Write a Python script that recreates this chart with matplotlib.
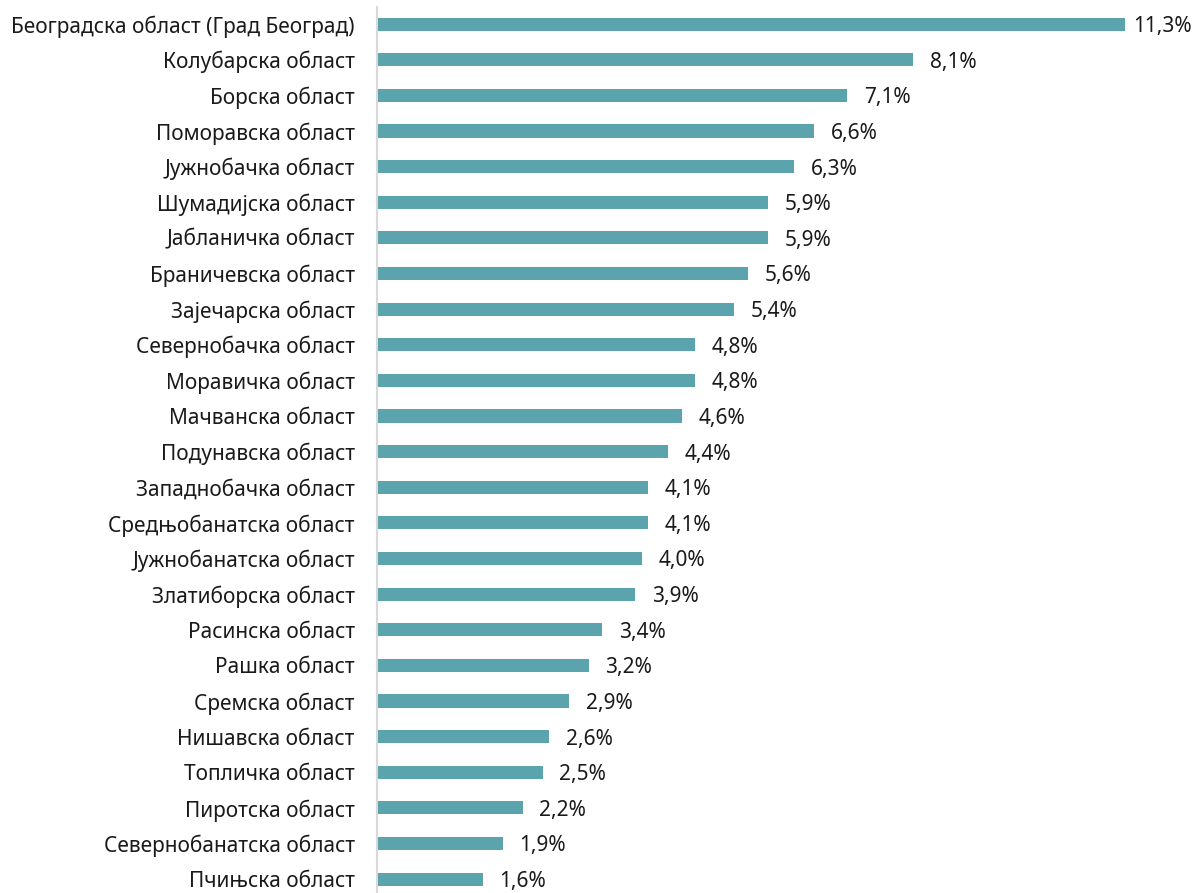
import matplotlib.pyplot as plt

regions = [
    "Београдска област (Град Београд)",
    "Колубарска област",
    "Борска област",
    "Поморавска област",
    "Јужнобачка област",
    "Шумадијска област",
    "Јабланичка област",
    "Браничевска област",
    "Зајечарска област",
    "Севернобачка област",
    "Моравичка област",
    "Мачванска област",
    "Подунавска област",
    "Западнобачка област",
    "Средњобанатска област",
    "Јужнобанатска област",
    "Златиборска област",
    "Расинска област",
    "Рашка област",
    "Сремска област",
    "Нишавска област",
    "Топличка област",
    "Пиротска област",
    "Севернобанатска област",
    "Пчињска област",
]
values = [11.3, 8.1, 7.1, 6.6, 6.3, 5.9, 5.9, 5.6, 5.4, 4.8, 4.8, 4.6, 4.4,
          4.1, 4.1, 4.0, 3.9, 3.4, 3.2, 2.9, 2.6, 2.5, 2.2, 1.9, 1.6]

plt.rcParams['font.family'] = ['Noto Sans', 'DejaVu Sans']

W, H = 1204, 893
fig = plt.figure(figsize=(W / 100, H / 100), dpi=100)
ax = fig.add_axes([377 / W, 0, 1 - 377 / W, 1 - 7 / H])

pos = list(range(len(regions)))
ax.barh(pos, values, height=0.37, color='#5BA3AD')

vmax = max(values)
for p, v in zip(pos, values):
    # the longest bar has no room, so its label sits closer
    off = 6 if v == vmax else 12
    ax.annotate(f"{v:.1f}%".replace('.', ','), (v, p), xytext=(off, 0),
                textcoords='offset points', va='center_baseline', ha='left',
                fontsize=15, color='#1a1a1a')

ax.set_xlim(0, (W - 377) / 66.2)
ax.set_ylim(24.39, -0.48)
ax.set_yticks(pos)
ax.set_yticklabels(regions, fontsize=15, color='#1a1a1a',
                   va='center_baseline')
ax.tick_params(axis='y', length=0, pad=16)
ax.set_xticks([])
for s in ['top', 'right', 'bottom']:
    ax.spines[s].set_visible(False)
ax.spines['left'].set_color('#d9d9d9')
ax.spines['left'].set_linewidth(1.5)

fig.savefig('out.png', dpi=100)
